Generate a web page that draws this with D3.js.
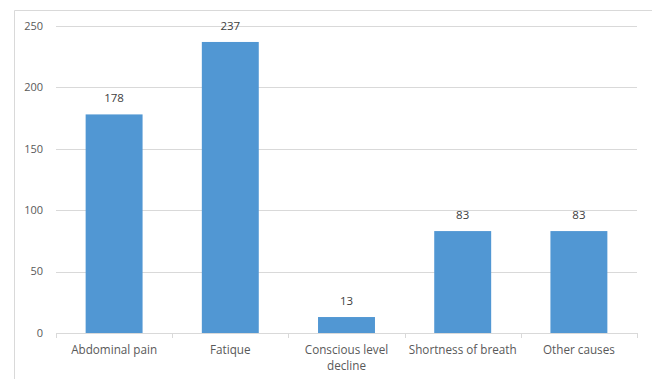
<!DOCTYPE html>
<html>
<head>
<meta charset="utf-8">
<script src="https://cdn.jsdelivr.net/npm/d3@7"></script>
<style>
  body { margin: 0; background: #fff; }
  text { font-family: "Open Sans", "Liberation Sans", sans-serif; fill: #595959; }
</style>
</head>
<body>
<div id="chart"></div>
<script>
// data
var categories = ["Abdominal pain", "Fatique", "Conscious level decline", "Shortness of breath", "Other causes"];
var counts = [178, 237, 13, 83, 83];
var yTicks = [0, 50, 100, 150, 200, 250];

var W = 652, H = 379;
var margin = { top: 26, right: 15, bottom: 46, left: 56 },
    width = W - margin.left - margin.right,
    height = H - margin.top - margin.bottom;

var root = d3.select("#chart")
    .append("svg")
    .attr("width", W)
    .attr("height", H);

// outer chart border (runs off the right and bottom edges)
root.append("path")
    .attr("d", "M14.5," + H + "V10.5H" + W)
    .attr("fill", "none")
    .attr("stroke", "#d9d9d9");

var svg = root.append("g")
    .attr("transform", "translate(" + margin.left + "," + margin.top + ")");

var x = d3.scaleBand()
    .domain(categories)
    .range([0, width])
    .paddingInner(0.51)
    .paddingOuter(0.255);

var y = d3.scaleLinear()
    .domain([0, 250])
    .range([height, 0]);

// gridlines
svg.append("g")
    .selectAll("line")
    .data(yTicks.filter(function (d) { return d > 0; }))
    .enter()
    .append("line")
    .attr("x1", 0)
    .attr("x2", width)
    .attr("y1", function (d) { return Math.round(y(d)) + 0.5; })
    .attr("y2", function (d) { return Math.round(y(d)) + 0.5; })
    .attr("stroke", "#d9d9d9");

// y tick labels
svg.append("g")
    .selectAll("text")
    .data(yTicks)
    .enter()
    .append("text")
    .attr("x", -13)
    .attr("y", function (d) { return y(d); })
    .attr("dy", "0.35em")
    .attr("text-anchor", "end")
    .style("font-size", "11px")
    .text(function (d) { return d; });

// bars
svg.append("g")
    .selectAll("rect")
    .data(counts)
    .enter()
    .append("rect")
    .attr("x", function (d, i) { return x(categories[i]); })
    .attr("width", x.bandwidth())
    .attr("y", function (d) { return y(d); })
    .attr("height", function (d) { return height - y(d); })
    .attr("fill", "#5197d3");

// value labels
svg.append("g")
    .selectAll("text")
    .data(counts)
    .enter()
    .append("text")
    .attr("x", function (d, i) { return x(categories[i]) + x.bandwidth() / 2; })
    .attr("y", function (d) { return y(d) - 12; })
    .attr("text-anchor", "middle")
    .style("font-size", "11.5px")
    .style("fill", "#404040")
    .text(function (d) { return d; });

// x axis line + category separators
var step = x.step();
var xAxis = svg.append("g").attr("transform", "translate(0," + height + ")");
xAxis.append("line")
    .attr("x1", 0).attr("x2", width)
    .attr("y1", 0.5).attr("y2", 0.5)
    .attr("stroke", "#d9d9d9");
xAxis.selectAll(".sep")
    .data(d3.range(categories.length + 1))
    .enter()
    .append("line")
    .attr("x1", function (i) { return Math.round(i * step) + 0.5; })
    .attr("x2", function (i) { return Math.round(i * step) + 0.5; })
    .attr("y1", 0)
    .attr("y2", 5)
    .attr("stroke", "#d9d9d9");

// category labels, wrapped like the original
var wrapped = {
    "Conscious level decline": ["Conscious level", "decline"]
};
xAxis.selectAll(".cat")
    .data(categories)
    .enter()
    .append("text")
    .attr("text-anchor", "middle")
    .style("font-size", "11.7px")
    .each(function (d) {
        var lines = wrapped[d] || [d];
        var t = d3.select(this);
        lines.forEach(function (ln, k) {
            t.append("tspan")
                .attr("x", x(d) + x.bandwidth() / 2)
                .attr("y", 21 + k * 16)
                .text(ln);
        });
    });
</script>
</body>
</html>
